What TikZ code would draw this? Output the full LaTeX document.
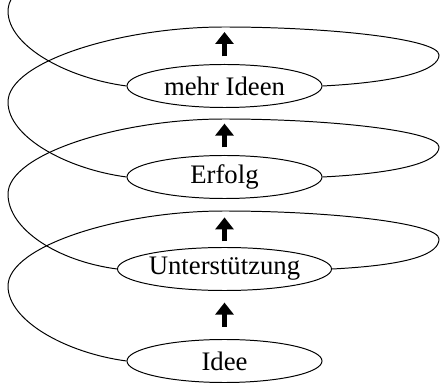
\documentclass[tikz,border=0pt]{standalone}
\usepackage{fontspec}
\setmainfont{Liberation Serif}
\usepackage{tikz}
\usetikzlibrary{shapes,arrows.meta,positioning}

\tikzset{
  stage/.style={draw, ellipse, line width=0.7pt, minimum width=4.875cm,
    minimum height=1.075cm, inner sep=0pt, font=\fontsize{19}{21}\selectfont},
  spiral/.style={line width=0.7pt},
  uparrow/.style={line width=3.2pt, -{Triangle[width=0.45cm,length=0.3cm]}}
}

\begin{document}
\begin{tikzpicture}[x=0.025cm, y=-0.025cm]
    \useasboundingbox (0,0) rectangle (440,385);
    \clip (0,0) rectangle (440,385);

    % Stages
    \node[stage] (idee) at (224.5,361) {Idee};
    \node[stage] (unter) at (224.5,269) {Unterstützung};
    \node[stage] (erfolg) at (224.5,177) {Erfolg};
    \node[stage] (ideen) at (224.5,86) {mehr Ideen};
    \coordinate (next) at (224.5,32);
    \coordinate (spiralend) at (224,-64);

    % First loop
    \draw[spiral] (idee.west) .. controls +(-60,-8) and +(0,35) .. (8,286)
        .. controls +(0,-40) and +(-104,0) .. (224,211)
        .. controls +(106,0) and +(0,-16) .. (439,239)
        .. controls +(0,15) and +(78,-4) .. (unter.east);
    % Second loop
    \draw[spiral] (unter.west) .. controls +(-60,-8) and +(0,35) .. (8,194)
        .. controls +(0,-40) and +(-104,0) .. (224,119)
        .. controls +(106,0) and +(0,-16) .. (439,147)
        .. controls +(0,15) and +(78,-4) .. (erfolg.east);
    % Third loop
    \draw[spiral] (erfolg.west) .. controls +(-60,-8) and +(0,35) .. (8,102)
        .. controls +(0,-40) and +(-104,0) .. (224,27)
        .. controls +(106,0) and +(0,-16) .. (439,55)
        .. controls +(0,15) and +(78,-4) .. (ideen.east);
    % Open end
    \draw[spiral] (ideen.west) .. controls +(-60,-8) and +(0,35) .. (8,11)
        .. controls +(0,-40) and +(-104,0) .. (spiralend);

    % Arrows
    \draw[uparrow, shorten <=0.31cm, shorten >=0.29cm] (idee.north) -- (unter.south);
    \draw[uparrow, shorten <=0.14cm, shorten >=0.46cm] (unter.north) -- (erfolg.south);
    \draw[uparrow, shorten <=0.19cm, shorten >=0.39cm] (erfolg.north) -- (ideen.south);
    \draw[uparrow, shorten <=0.19cm] (ideen.north) -- (next);
\end{tikzpicture}
\end{document}
